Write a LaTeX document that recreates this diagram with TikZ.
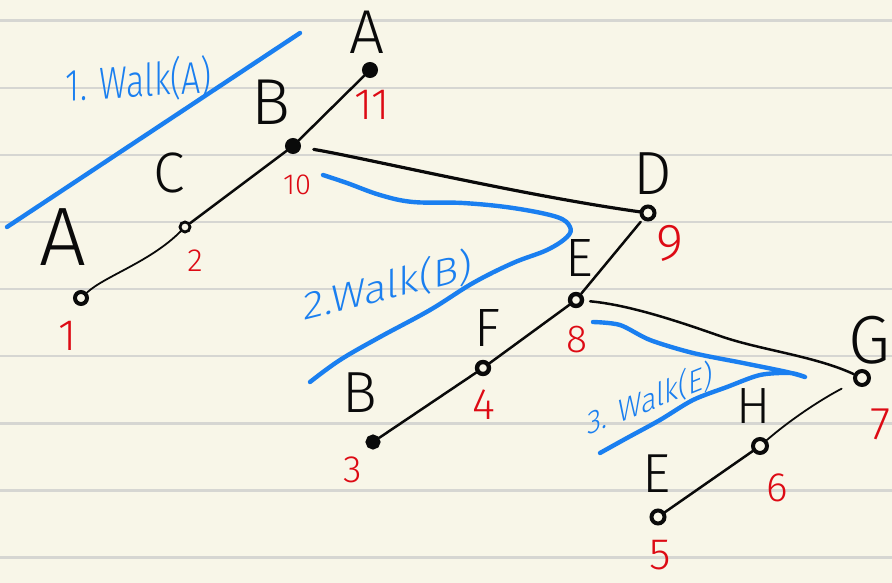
\documentclass[tikz,border=0pt]{standalone}
\usepackage{fontspec}
\setmainfont{Fira Sans Light}
\usepackage{graphicx}
\definecolor{paper}{HTML}{F8F6E8}
\definecolor{rulecol}{HTML}{D6D6D2}
\definecolor{ink}{HTML}{0A0A0A}
\definecolor{redink}{HTML}{DD0A14}
\definecolor{blueink}{HTML}{1A7FF0}
\tikzset{
  vtx/.style={circle, draw=ink, line width=4pt, inner sep=0pt, minimum size=12pt, fill=paper},
  vtxf/.style={vtx, fill=ink},
  edge/.style={draw=ink, line width=2.5pt, line cap=round},
  thinedge/.style={edge, line width=1.8pt},
  thickedge/.style={edge, line width=3.2pt},
  walk/.style={draw=blueink, line width=4.4pt, line cap=round, line join=round},
  letter/.style={text=ink, inner sep=0pt, font=\fontsize{#1}{#1}\selectfont},
  letter/.default=60,
  num/.style={text=redink, inner sep=0pt, font=\fontsize{#1}{#1}\selectfont},
  num/.default=40,
  walktext/.style={text=blueink, inner sep=0pt, font=\fontsize{40}{40}\selectfont},
  paperrule/.style={draw=rulecol, line width=2.4pt}
}
\begin{document}
\begin{tikzpicture}[x=1pt, y=-1pt]
\useasboundingbox (0,0) rectangle (892,583);
\fill[paper] (0,0) rectangle (892,583);
\foreach \k in {0,...,8}{
  \draw[paperrule] (0,{20.7+67.1*\k}) -- (892,{20.7+67.1*\k});
}
% vertices
\node[vtx] (n1) at (81,298) {};
\node[vtx, minimum size=10pt, line width=2.8pt] (n2) at (185,227) {};
\node[vtxf] (n10) at (293,146) {};
\node[vtxf] (n11) at (370,70) {};
\node[vtx, minimum size=13pt] (n9) at (648,213) {};
\node[vtx, line width=4.4pt] (n8) at (576,300) {};
\node[vtx, line width=4.4pt] (n4) at (483,368) {};
\node[vtxf, minimum size=11pt] (n3) at (373,442) {};
\node[vtx, minimum size=14pt] (n7) at (862,378) {};
\node[vtx, minimum size=14pt] (n6) at (760,446) {};
\node[vtx, minimum size=13pt] (n5) at (658,517) {};
% vertex letters
\node[letter=83] (lA1) at (63,237) {A};
\node[letter=57] (lC) at (169,173) {C};
\node[letter=65] (lB10) at (271,102) {B};
\node[letter=62] (lA11) at (367,32) {A};
\node[letter=61] (lD) at (653,174) {D};
\node[letter=54] (lE8) at (579,258) {E};
\node[letter=54] (lF) at (487,328) {F};
\node[letter=58] (lB3) at (360,393) {B};
\node[letter=68] (lG) at (870,340) {G};
\node[letter=51] (lH) at (754,406) {H};
\node[letter=55] (lE5) at (657,474) {E};
% visit numbers
\node[num=44] (c1) at (68,336) {1};
\node[num=32] (c2) at (195,261) {2};
\node[num=38] (c3) at (353,470) {3};
\node[num=44] (c4) at (484,405) {4};
\node[num=44] (c5) at (660,555) {5};
\node[num=41] (c6) at (777,488) {6};
\node[num=46] (c7) at (881,424) {7};
\node[num=39] (c8) at (577,340) {8};
\node[num=52] (c9) at (670,243) {9};
\node[num=29] (c10) at (297,185) {10};
\node[num=44] (c11) at (372,105) {11};
% edges
\draw[thinedge] (n1) .. controls (105,276) and (150,262) .. (n2);
\draw[edge] (n2) -- (n10);
\draw[edge] (n10) -- (n11);
\draw[thickedge, shorten <=13pt] (n10) .. controls (360,157) and (520,195) .. (n9);
\draw[edge, shorten <=3pt] (n9) -- (n8);
\draw[edge] (n8) -- (n4);
\draw[edge] (n4) -- (n3);
\draw[edge, shorten <=6pt] (n8) .. controls (630,305) and (680,322) .. (720,336)
      .. controls (760,350) and (815,356) .. (n7);
\draw[thinedge, shorten <=14pt] (n7) .. controls (820,400) and (790,420) .. (n6);
\draw[edge] (n6) -- (n5);
% walk strokes
\draw[walk] (7,227) -- (300,33);
\draw[walk] plot[smooth, tension=0.6] coordinates {(323,175) (347,183) (380,195) (413,202) (463,203) (513,208) (557,217) (570,227) (567,237) (547,250) (513,263) (473,283) (430,310) (380,337) (340,360) (310,382)};
\draw[walk] plot[smooth, tension=0.5] coordinates {(593,322) (620,325) (650,340) (693,353) (743,363) (787,372) (805,377) (790,373) (760,375) (727,387) (693,400) (660,420) (627,438) (600,453)};
\node[walktext, yslant=0.06] (w1) at (139,81) {\resizebox*{146pt}{44pt}{1. Walk(A)}};
\node[walktext, yslant=0.25] (w2) at (388,286) {\resizebox*{168pt}{38pt}{2.Walk(B)}};
\node[walktext, yslant=0.40] (w3) at (650,399) {\resizebox*{125pt}{32pt}{3. Walk(E)}};
\end{tikzpicture}
\end{document}
